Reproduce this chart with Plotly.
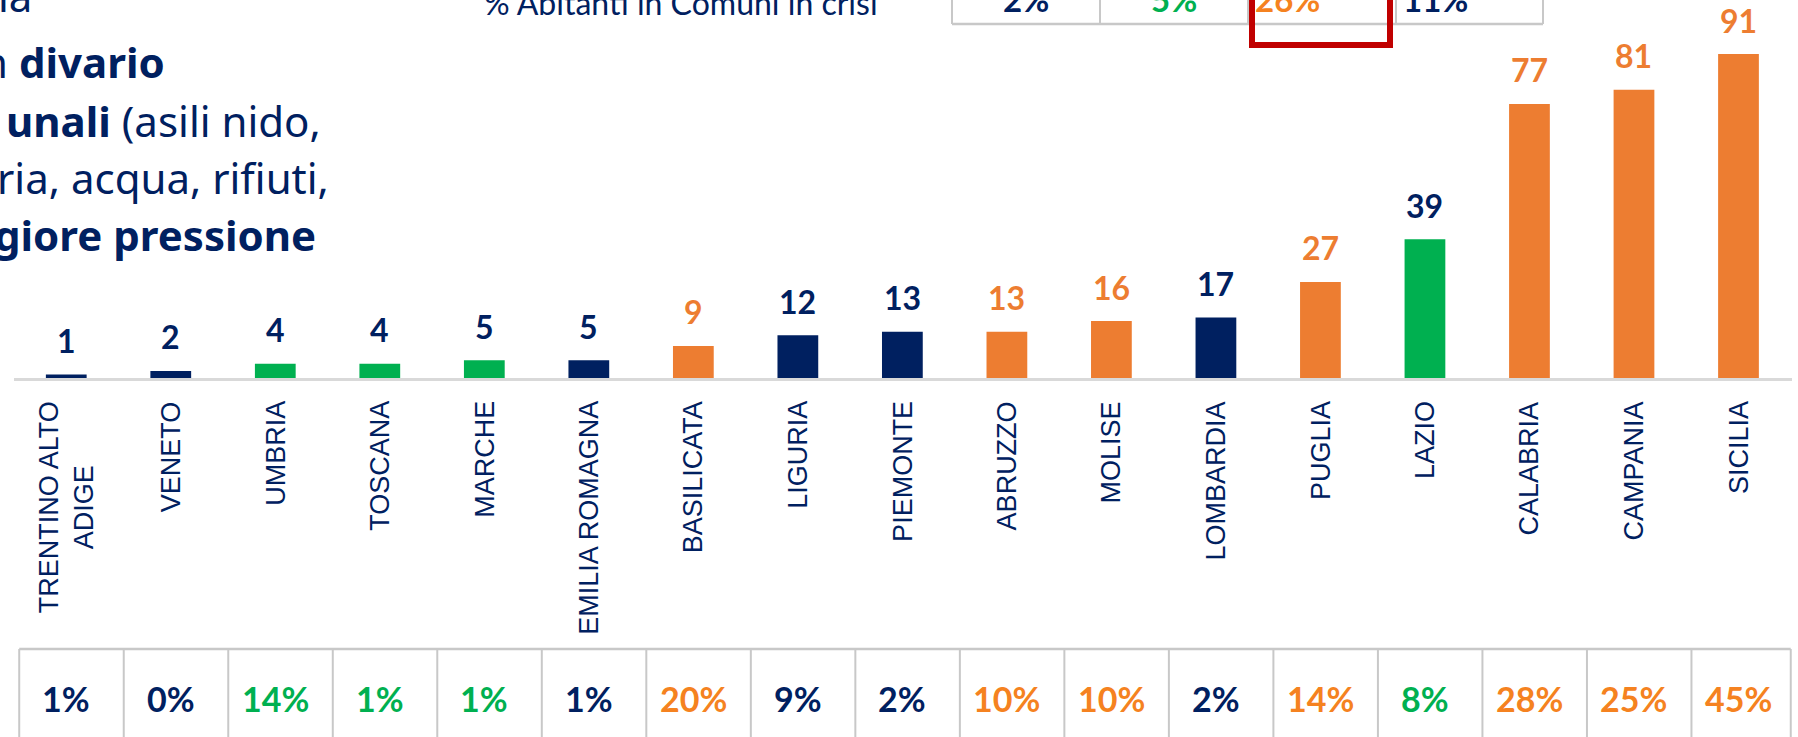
import plotly.graph_objects as go

# ---------------- data ----------------
categories = ["TRENTINO ALTO<br>ADIGE", "VENETO", "UMBRIA", "TOSCANA", "MARCHE",
              "EMILIA ROMAGNA", "BASILICATA", "LIGURIA", "PIEMONTE", "ABRUZZO",
              "MOLISE", "LOMBARDIA", "PUGLIA", "LAZIO", "CALABRIA", "CAMPANIA", "SICILIA"]
values = [1, 2, 4, 4, 5, 5, 9, 12, 13, 13, 16, 17, 27, 39, 77, 81, 91]
bar_groups = ["N", "N", "C", "C", "C", "N", "S", "N", "N", "S", "S", "N", "S", "C", "S", "S", "S"]
label_groups = ["N", "N", "N", "N", "N", "N", "S", "N", "N", "S", "S", "N", "S", "N", "S", "S", "S"]
pct_labels = ["1%", "0%", "14%", "1%", "1%", "1%", "20%", "9%", "2%", "10%", "10%",
              "2%", "14%", "8%", "28%", "25%", "45%"]
pct_groups = ["N", "N", "C", "C", "C", "N", "S", "N", "N", "S", "S", "N", "S", "C", "S", "S", "S"]
summary_labels = ["2%", "5%", "26%", "11%"]
summary_groups = ["N", "C", "S", "N"]
summary_title = "% Abitanti in Comuni in crisi"
left_text = [
    "ia",
    "n <b>divario</b>",
    "<b>unali</b> (asili nido,",
    "ria, acqua, rifiuti,",
    "<b>giore pressione</b>",
]

# ---------------- style ----------------
NAVY = "#002060"
GREEN = "#00B050"
ORANGE = "#ED7D31"
ORANGE_T = "#F58220"
GRID = "#C8C8C8"
bar_color = {"N": NAVY, "C": GREEN, "S": ORANGE}
lab_color = {"N": NAVY, "C": NAVY, "S": ORANGE}
tab_color = {"N": NAVY, "C": GREEN, "S": ORANGE_T}

W, H = 1798, 737
L, R = 14, 1792
T, B = 22, 378


def px(x):
    return (x - L) / (R - L)


def py(y):
    return (B - y) / (B - T)


fig = go.Figure()
fig.add_trace(go.Bar(
    x=categories, y=values,
    marker=dict(color=[bar_color[g] for g in bar_groups], line=dict(width=0)),
    width=0.39, hoverinfo="skip",
))

ann = []
# value labels
for c, v, g in zip(categories, values, label_groups):
    ann.append(dict(x=c, y=v, xref="x", yref="y", text=f"<b>{v}</b>", showarrow=False,
                    yanchor="middle", yshift=34,
                    font=dict(family="Lato", size=32, color=lab_color[g])))
# category labels
for c in categories:
    ann.append(dict(x=c, y=0, xref="x", yref="y", text=c, showarrow=False,
                    textangle=-90, yanchor="top", yshift=-21, align="center",
                    font=dict(family="Liberation Sans", size=27, color=NAVY)))
# bottom table text
for i, (t, g) in enumerate(zip(pct_labels, pct_groups)):
    ann.append(dict(x=categories[i], y=py(698), xref="x", yref="paper", text=f"<b>{t}</b>",
                    showarrow=False, yanchor="middle",
                    font=dict(family="Lato", size=34, color=tab_color[g])))
# top summary table text
top_edges = [952, 1100, 1248, 1396, 1543]
for i, (t, g) in enumerate(zip(summary_labels, summary_groups)):
    cx = (top_edges[i] + top_edges[i + 1]) / 2
    ann.append(dict(x=px(cx), y=py(-1), xref="paper", yref="paper", text=f"<b>{t}</b>",
                    showarrow=False, yanchor="middle",
                    font=dict(family="Lato", size=33, color=tab_color[g])))
ann.append(dict(x=px(880), y=py(3), xref="paper", yref="paper", text=summary_title,
                showarrow=False, xanchor="right", yanchor="middle",
                font=dict(family="Lato", size=32, color=NAVY)))
# left text block
ends = [34, 167, 323, 331, 318]
baselines = [12, 77, 137, 193, 250]
for t, e, bl in zip(left_text, ends, baselines):
    ann.append(dict(x=px(e), y=py(bl - 16), xref="paper", yref="paper", text=t,
                    showarrow=False, xanchor="right", yanchor="middle",
                    font=dict(family="Noto Sans", size=42, color=NAVY)))

shapes = []
# bottom table
shapes.append(dict(type="line", xref="x", yref="paper", x0=-0.45, x1=16.5,
                   y0=py(649), y1=py(649), line=dict(color=GRID, width=2.5)))
for i in range(18):
    xb = i - 0.45 if i < 17 else 16.5
    shapes.append(dict(type="line", xref="x", yref="paper", x0=xb, x1=xb,
                       y0=py(649), y1=py(745), line=dict(color=GRID, width=2)))
# top table
shapes.append(dict(type="line", xref="paper", yref="paper", x0=px(952), x1=px(1543),
                   y0=py(24), y1=py(24), line=dict(color=GRID, width=2.5)))
for e in top_edges:
    shapes.append(dict(type="line", xref="paper", yref="paper", x0=px(e), x1=px(e),
                       y0=py(24), y1=py(-10), line=dict(color=GRID, width=2)))
# red highlight box
shapes.append(dict(type="rect", xref="paper", yref="paper", x0=px(1252), x1=px(1390),
                   y0=py(45), y1=py(-20), line=dict(color="#C00000", width=6),
                   fillcolor="rgba(0,0,0,0)"))

fig.update_layout(
    width=W, height=H, autosize=False,
    margin=dict(l=L, r=W - R, t=T, b=H - B, autoexpand=False),
    paper_bgcolor="white", plot_bgcolor="white",
    showlegend=False,
    xaxis=dict(showticklabels=False, ticks="", showgrid=False, zeroline=False,
               showline=True, linecolor="#D9D9D9", linewidth=2.5, fixedrange=True),
    yaxis=dict(range=[0, 100], visible=False, fixedrange=True),
    annotations=ann, shapes=shapes,
)

fig.write_html("out.html", config={"displayModeBar": False},
               post_script="document.body.style.margin='0px';")
